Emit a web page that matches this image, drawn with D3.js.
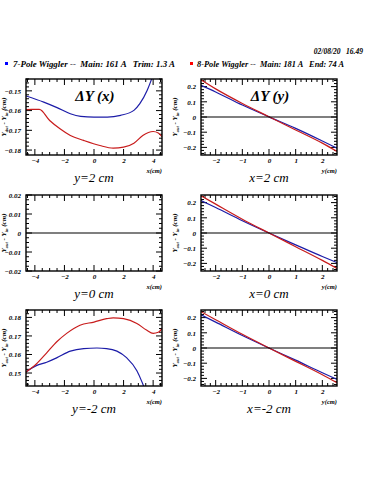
<!DOCTYPE html>
<html>
<head>
<meta charset="utf-8">
<script src="https://cdn.jsdelivr.net/npm/d3@7"></script>
<style>
  body { margin: 0; background: #fff; }
</style>
</head>
<body>
<div id="sandbox"></div>
<script>
// values

// left column: dY vs x, three y positions
var xTicksLeft = [-4, -2, 0, 2, 4];
var yTicksTop = [-0.15, -0.16, -0.17, -0.18];
var yTicksMid = [0.02, 0.01, 0, -0.01, -0.02];
var yTicksBot = [0.18, 0.17, 0.16, 0.15];

var y2BlueX = [-4.6, -3.4, -2.5, -1.6, -0.9, 0.0, 0.9, 1.8, 2.7, 3.1, 3.6, 3.9, 4.2];
var y2BlueV = [-0.1526, -0.1557, -0.1585, -0.1616, -0.1629, -0.1633, -0.1633, -0.1624, -0.1599, -0.1565, -0.1497, -0.1440, -0.1380];
var y2RedX = [-4.6, -4.2, -3.7, -3.0, -2.3, -1.6, -0.7, 0.4, 1.3, 2.0, 2.7, 3.3, 4.0, 4.35, 4.6];
var y2RedV = [-0.1595, -0.1594, -0.1594, -0.1650, -0.1692, -0.1726, -0.1751, -0.1777, -0.1790, -0.1785, -0.1765, -0.1726, -0.1706, -0.1714, -0.1732];

var ym2BlueX = [-4.6, -3.9, -3.2, -2.5, -1.6, -0.7, 0.2, 0.85, 1.55, 2.2, 2.9, 3.25, 3.5];
var ym2BlueV = [0.1506, 0.1540, 0.1558, 0.1583, 0.1618, 0.1632, 0.1635, 0.1632, 0.1618, 0.1583, 0.1512, 0.1451, 0.1400];
var ym2RedX = [-4.6, -3.9, -3.2, -2.5, -1.85, -0.95, 0, 0.85, 1.3, 2.0, 2.9, 3.55, 4.0, 4.35, 4.6];
var ym2RedV = [0.1506, 0.1549, 0.1609, 0.1670, 0.1714, 0.1758, 0.1775, 0.1793, 0.1798, 0.1793, 0.1767, 0.1732, 0.1714, 0.1720, 0.1739];

// right column: dY vs y, three x positions
var xTicksRight = [-2, -1, 0, 1, 2];
var yTicksRight = [0.2, 0.1, 0, -0.1, -0.2];
var yPos = [-2.55, -2, -1, 0, 1, 2, 2.55];
var x2Red = [0.245, 0.185, 0.089, 0.002, -0.085, -0.172, -0.227];
var x2Blue = [0.209, 0.165, 0.079, 0.001, -0.075, -0.158, -0.205];
var x0Red = [0.245, 0.190, 0.091, 0.000, -0.090, -0.180, -0.233];
var x0Blue = [0.214, 0.168, 0.081, 0.000, -0.078, -0.155, -0.195];
var xm2Red = [0.239, 0.186, 0.090, 0.000, -0.088, -0.176, -0.229];
var xm2Blue = [0.218, 0.170, 0.082, 0.000, -0.080, -0.163, -0.207];

var blue = '#1c1ca8', red = '#c81c1c';
var serif = '"Liberation Serif", "Times New Roman", "DejaVu Serif", serif';

var svg = d3.select('#sandbox').append('svg')
  .attr('width', 375).attr('height', 500);

function label(sel, size, bold, italic) {
  return sel.style('font-family', serif).style('font-size', size + 'px')
    .style('font-weight', bold ? 'bold' : 'normal')
    .style('font-style', italic ? 'italic' : 'normal');
}

// header
label(svg.append('text'), 7.5, true, true).attr('x', 363).attr('y', 54)
  .attr('text-anchor', 'end').style('white-space', 'pre')
  .text('02/08/20   16.49');

svg.append('rect').attr('x', 5).attr('y', 62).attr('width', 3).attr('height', 3).style('fill', '#0000ff');
label(svg.append('text'), 7.5, true, true).attr('x', 13).attr('y', 67)
  .attr('textLength', 162).attr('lengthAdjust', 'spacingAndGlyphs').style('white-space', 'pre')
  .text('7-Pole Wiggler --  Main: 161 A   Trim: 1.3 A');
svg.append('rect').attr('x', 190).attr('y', 62).attr('width', 3).attr('height', 3).style('fill', '#ff0000');
label(svg.append('text'), 7.5, true, true).attr('x', 197).attr('y', 67)
  .attr('textLength', 147).attr('lengthAdjust', 'spacingAndGlyphs').style('white-space', 'pre')
  .text('8-Pole Wiggler --  Main: 181 A   End: 74 A');

function zip(xs, vs) { return xs.map(function(x, i) { return [x, vs[i]]; }); }

var panels = [
  { id: 'p1', left: 26, top: 79, xd: [-4.6, 4.6], yd: [-0.1825, -0.144], xt: xTicksLeft, yt: yTicksTop,
    xminor: 0.5, yminor: 0.002, xlab: 'x(cm)', sub: 'y=2 cm', title: '\u0394Y (x)', fmt: d3.format('.2f'),
    series: [[zip(y2BlueX, y2BlueV), blue], [zip(y2RedX, y2RedV), red]], zero: false },
  { id: 'p2', left: 201, top: 79, xd: [-2.55, 2.55], yd: [-0.25, 0.25], xt: xTicksRight, yt: yTicksRight,
    xminor: 0.2, yminor: 0.02, xlab: 'y(cm)', sub: 'x=2 cm', title: '\u0394Y (y)', fmt: d3.format('.1f'),
    series: [[zip(yPos, x2Blue), blue], [zip(yPos, x2Red), red]], zero: true },
  { id: 'p3', left: 26, top: 195, xd: [-4.6, 4.6], yd: [-0.02, 0.02], xt: xTicksLeft, yt: yTicksMid,
    xminor: 0.5, yminor: 0.0025, xlab: 'x(cm)', sub: 'y=0 cm', title: null, fmt: d3.format('.2f'),
    series: [], zero: true },
  { id: 'p4', left: 201, top: 195, xd: [-2.55, 2.55], yd: [-0.25, 0.25], xt: xTicksRight, yt: yTicksRight,
    xminor: 0.2, yminor: 0.02, xlab: 'y(cm)', sub: 'x=0 cm', title: null, fmt: d3.format('.1f'),
    series: [[zip(yPos, x0Blue), blue], [zip(yPos, x0Red), red]], zero: true },
  { id: 'p5', left: 26, top: 310, xd: [-4.6, 4.6], yd: [0.143, 0.184], xt: xTicksLeft, yt: yTicksBot,
    xminor: 0.5, yminor: 0.002, xlab: 'x(cm)', sub: 'y=-2 cm', title: null, fmt: d3.format('.2f'),
    series: [[zip(ym2BlueX, ym2BlueV), blue], [zip(ym2RedX, ym2RedV), red]], zero: false },
  { id: 'p6', left: 201, top: 310, xd: [-2.55, 2.55], yd: [-0.25, 0.25], xt: xTicksRight, yt: yTicksRight,
    xminor: 0.2, yminor: 0.02, xlab: 'y(cm)', sub: 'x=-2 cm', title: null, fmt: d3.format('.1f'),
    series: [[zip(yPos, xm2Blue), blue], [zip(yPos, xm2Red), red]], zero: true }
];

var W = 136, H = 76;

panels.forEach(function(p) {
  var g = svg.append('g').attr('transform', 'translate(' + p.left + ',' + p.top + ')');
  var x = d3.scaleLinear().domain(p.xd).range([0, W]);
  var y = d3.scaleLinear().domain(p.yd).range([H, 0]);

  g.append('clipPath').attr('id', 'clip-' + p.id)
    .append('rect').attr('width', W).attr('height', H);

  // minor and major ticks, inward on all sides
  var xmin = d3.range(Math.ceil(p.xd[0] / p.xminor) * p.xminor, p.xd[1] + 1e-9, p.xminor);
  var ymin = d3.range(Math.ceil(p.yd[0] / p.yminor) * p.yminor, p.yd[1] + 1e-9, p.yminor);
  var ticks = g.append('g').style('stroke', '#000').style('stroke-width', 1);
  xmin.forEach(function(v) {
    var major = p.xt.some(function(t) { return Math.abs(t - v) < 1e-6; });
    var len = major ? 6 : 3;
    ticks.append('line').attr('x1', x(v)).attr('x2', x(v)).attr('y1', H).attr('y2', H - len);
    ticks.append('line').attr('x1', x(v)).attr('x2', x(v)).attr('y1', 0).attr('y2', len);
  });
  ymin.forEach(function(v) {
    var major = p.yt.some(function(t) { return Math.abs(t - v) < 1e-6; });
    var len = major ? 6 : 3;
    ticks.append('line').attr('x1', 0).attr('x2', len).attr('y1', y(v)).attr('y2', y(v));
    ticks.append('line').attr('x1', W).attr('x2', W - len).attr('y1', y(v)).attr('y2', y(v));
  });

  // axis labels via d3 axes (tick lines hidden, labels kept)
  var xa = g.append('g').attr('transform', 'translate(0,' + H + ')')
    .call(d3.axisBottom(x).tickValues(p.xt).tickSize(0).tickPadding(3).tickFormat(d3.format('d')));
  var ya = g.append('g')
    .call(d3.axisLeft(y).tickValues(p.yt).tickSize(0).tickPadding(5)
      .tickFormat(function(d) { return d === 0 ? '0' : p.fmt(d); }));
  [xa, ya].forEach(function(a) {
    a.select('.domain').remove();
    label(a.selectAll('text'), 7, true, true);
  });

  label(g.append('text'), 6.5, true, true).attr('x', W).attr('y', H + 18).attr('text-anchor', 'end')
    .text(p.xlab);

  // data
  var line = d3.line().x(function(d) { return x(d[0]); }).y(function(d) { return y(d[1]); })
    .curve(d3.curveMonotoneX);
  var data = g.append('g').attr('clip-path', 'url(#clip-' + p.id + ')');
  p.series.forEach(function(s) {
    data.append('path').datum(s[0]).attr('d', line)
      .style('fill', 'none').style('stroke', s[1]).style('stroke-width', 1.2);
  });
  if (p.zero) {
    data.append('line').attr('x1', 0).attr('x2', W).attr('y1', y(0)).attr('y2', y(0))
      .style('stroke', '#000').style('stroke-width', 1.2);
  }

  // frame
  g.append('rect').attr('width', W).attr('height', H)
    .style('fill', 'none').style('stroke', '#000').style('stroke-width', 1.4);

  if (p.title) {
    label(g.append('text'), 15, true, true).attr('x', W / 2 + 1).attr('y', 22).attr('text-anchor', 'middle')
      .text(p.title);
  }

  label(g.append('text'), 13, false, true).attr('x', W / 2).attr('y', H + 27).attr('text-anchor', 'middle')
    .text(p.sub);

  // y axis title
  var yt = label(g.append('text'), 7, true, true)
    .attr('transform', 'translate(' + (p.left < 100 ? -20 : -24) + ',' + (H / 2) + ') rotate(-90)')
    .attr('text-anchor', 'middle');
  yt.append('tspan').text('Y');
  yt.append('tspan').attr('dy', 2).style('font-size', '4.5px').text('out');
  yt.append('tspan').attr('dy', -2).text(' - Y');
  yt.append('tspan').attr('dy', 2).style('font-size', '4.5px').text('in');
  yt.append('tspan').attr('dy', -2).text(' (cm)');
});
</script>
</body>
</html>
